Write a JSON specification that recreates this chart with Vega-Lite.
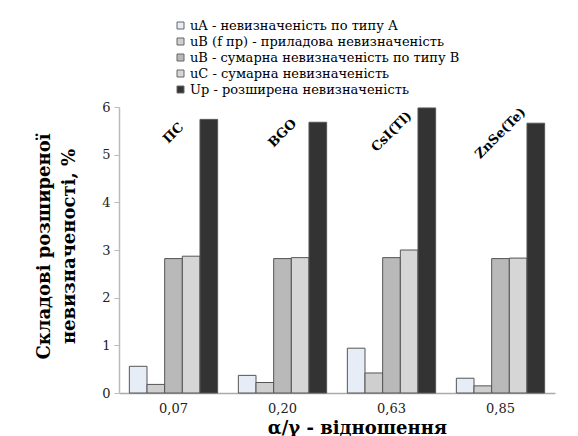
{
  "$schema": "https://vega.github.io/schema/vega-lite/v6.json",
  "width": 436,
  "height": 286,
  "autosize": {"type": "none"},
  "padding": {"left": 119, "top": 107, "right": 23, "bottom": 43},
  "background": "white",
  "config": {
    "view": {"stroke": null},
    "font": "DejaVu Serif"
  },
  "datasets": {
    "bars": [
      {"ratio": "0,07", "series": "uA - невизначеність по типу А", "value": 0.56},
      {"ratio": "0,07", "series": "uB (f пр) - приладова невизначеність", "value": 0.18},
      {"ratio": "0,07", "series": "uB - сумарна невизначеність по типу В", "value": 2.82},
      {"ratio": "0,07", "series": "uC - сумарна невизначеність", "value": 2.87},
      {"ratio": "0,07", "series": "Up - розширена невизначеність", "value": 5.74},
      {"ratio": "0,20", "series": "uA - невизначеність по типу А", "value": 0.37},
      {"ratio": "0,20", "series": "uB (f пр) - приладова невизначеність", "value": 0.22},
      {"ratio": "0,20", "series": "uB - сумарна невизначеність по типу В", "value": 2.82},
      {"ratio": "0,20", "series": "uC - сумарна невизначеність", "value": 2.84},
      {"ratio": "0,20", "series": "Up - розширена невизначеність", "value": 5.68},
      {"ratio": "0,63", "series": "uA - невизначеність по типу А", "value": 0.94},
      {"ratio": "0,63", "series": "uB (f пр) - приладова невизначеність", "value": 0.42},
      {"ratio": "0,63", "series": "uB - сумарна невизначеність по типу В", "value": 2.84},
      {"ratio": "0,63", "series": "uC - сумарна невизначеність", "value": 3.0},
      {"ratio": "0,63", "series": "Up - розширена невизначеність", "value": 5.98},
      {"ratio": "0,85", "series": "uA - невизначеність по типу А", "value": 0.31},
      {"ratio": "0,85", "series": "uB (f пр) - приладова невизначеність", "value": 0.15},
      {"ratio": "0,85", "series": "uB - сумарна невизначеність по типу В", "value": 2.82},
      {"ratio": "0,85", "series": "uC - сумарна невизначеність", "value": 2.83},
      {"ratio": "0,85", "series": "Up - розширена невизначеність", "value": 5.66}
    ],
    "labels": [
      {"ratio": "0,07", "material": "ПС", "value": 5.45},
      {"ratio": "0,20", "material": "BGO", "value": 5.45},
      {"ratio": "0,63", "material": "CsI(Tl)", "value": 5.48},
      {"ratio": "0,85", "material": "ZnSe(Te)", "value": 5.45}
    ]
  },
  "encoding": {
    "x": {
      "field": "ratio",
      "type": "nominal",
      "sort": ["0,07", "0,20", "0,63", "0,85"],
      "scale": {"paddingInner": 0.19, "paddingOuter": 0.095},
      "axis": {
        "title": "α/γ - відношення",
        "titleFont": "DejaVu Serif",
        "titleFontSize": 18,
        "titleFontWeight": "bold",
        "titleColor": "#000",
        "titleX": 238,
        "titleY": 40,
        "titleBaseline": "alphabetic",
        "labelAngle": 0,
        "labelFont": "DejaVu Serif",
        "labelFontSize": 13,
        "labelColor": "#222",
        "labelPadding": 9,
        "ticks": false,
        "domainColor": "#aaaaaa",
        "domainWidth": 1.5
      }
    }
  },
  "layer": [
    {
      "data": {"name": "bars"},
      "mark": {"type": "bar", "stroke": "#555555", "strokeWidth": 1},
      "encoding": {
        "xOffset": {
          "field": "series",
          "type": "nominal",
          "sort": [
            "uA - невизначеність по типу А",
            "uB (f пр) - приладова невизначеність",
            "uB - сумарна невизначеність по типу В",
            "uC - сумарна невизначеність",
            "Up - розширена невизначеність"
          ],
          "scale": {"paddingInner": 0, "paddingOuter": 0}
        },
        "y": {
          "field": "value",
          "type": "quantitative",
          "scale": {"domain": [0, 6]},
          "axis": {
            "values": [0, 1, 2, 3, 4, 5, 6],
            "grid": false,
            "title": ["Складові розширеної", "невизначеності, %"],
            "titleFont": "DejaVu Serif",
            "titleFontSize": 18,
            "titleFontWeight": "bold",
            "titleColor": "#000",
            "titleLineHeight": 25,
            "titleAngle": -90,
            "titleBaseline": "top",
            "titleAlign": "center",
            "titleX": -84,
            "titleY": 139,
            "labelFont": "DejaVu Serif",
            "labelFontSize": 13,
            "labelColor": "#222",
            "labelPadding": 4,
            "tickSize": 5,
            "tickColor": "#bbbbbb",
            "domainColor": "#bbbbbb",
            "domainWidth": 1.5
          }
        },
        "color": {
          "field": "series",
          "type": "nominal",
          "sort": [
            "uA - невизначеність по типу А",
            "uB (f пр) - приладова невизначеність",
            "uB - сумарна невизначеність по типу В",
            "uC - сумарна невизначеність",
            "Up - розширена невизначеність"
          ],
          "scale": {"range": ["#e6edf6", "#cfcfcf", "#b9b9b9", "#d6d6d6", "#333333"]},
          "legend": {
            "title": null,
            "orient": "none",
            "legendX": 55,
            "legendY": -88,
            "direction": "vertical",
            "symbolType": "square",
            "symbolSize": 49,
            "symbolStrokeColor": "#666666",
            "symbolStrokeWidth": 1,
            "labelFont": "DejaVu Serif",
            "labelFontSize": 13,
            "labelColor": "#000",
            "labelLimit": 400,
            "rowPadding": 2,
            "labelOffset": 3,
            "padding": 0
          }
        }
      }
    },
    {
      "data": {"name": "labels"},
      "mark": {
        "type": "text",
        "angle": -45,
        "font": "DejaVu Serif",
        "fontSize": 13,
        "fontWeight": "bold",
        "color": "#000",
        "align": "center",
        "baseline": "middle"
      },
      "encoding": {
        "y": {"field": "value", "type": "quantitative"},
        "text": {"field": "material"}
      }
    }
  ]
}
